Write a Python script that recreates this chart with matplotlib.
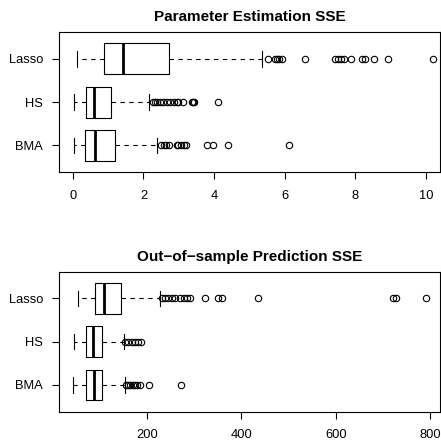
import matplotlib
matplotlib.use("Agg")
import matplotlib.pyplot as plt

plt.rcParams['font.family'] = ['Liberation Sans', 'DejaVu Sans']

methods = ["BMA", "HS", "Lasso"]

# parameter estimation SSE: whislo, q1, med, q3, whishi
param_bma = [0.02, 0.33, 0.63, 1.18, 2.39]
param_hs = [0.02, 0.36, 0.60, 1.08, 2.15]
param_lasso = [0.13, 0.87, 1.43, 2.71, 5.37]
param_bma_out = [2.50, 2.57, 2.64, 2.73, 2.94, 2.99, 3.06, 3.16, 3.20, 3.79, 3.98, 4.40, 6.11]
param_hs_out = [2.26, 2.33, 2.39, 2.47, 2.56, 2.66, 2.75, 2.85, 2.94, 2.99, 3.13, 3.37, 3.40, 3.43, 4.12]
param_lasso_out = [5.52, 5.71, 5.77, 5.85, 5.92, 6.58, 7.43, 7.52, 7.60, 7.68, 7.87, 8.18, 8.27, 8.54, 8.93, 10.19]

# out-of-sample prediction SSE
pred_bma = [43, 72, 88, 105, 153]
pred_hs = [45, 70, 86, 104, 151]
pred_lasso = [53, 90, 110, 146, 227]
pred_bma_out = [155, 160, 165, 170, 175, 180, 186, 204, 273]
pred_hs_out = [154, 161, 168, 175, 182, 188]
pred_lasso_out = [232, 239, 245, 253, 260, 270, 278, 285, 292, 323, 350, 360, 436, 721, 727, 791]


def make_stats(five, out, name):
    return dict(label=name, whislo=five[0], q1=five[1], med=five[2],
                q3=five[3], whishi=five[4], fliers=out)


def draw(ax, stats, title, xlim, xticks):
    ax.bxp(stats, positions=[1, 2, 3], widths=0.71, capwidths=0.36,
           orientation='horizontal', showfliers=True,
           boxprops=dict(color='black', lw=0.8),
           medianprops=dict(color='black', lw=2.0, solid_capstyle='butt'),
           whiskerprops=dict(color='black', lw=0.8, linestyle=(0, (4, 4))),
           capprops=dict(color='black', lw=0.8),
           flierprops=dict(marker='o', markerfacecolor='none',
                           markeredgecolor='black', markersize=4.6, mew=0.8))
    ax.set_xlim(*xlim)
    ax.set_ylim(0.38, 3.62)
    ax.set_xticks(xticks)
    ax.set_yticks([1, 2, 3])
    ax.set_yticklabels(methods)
    ax.tick_params(axis='both', direction='out', length=5, width=0.8,
                   labelsize=9.3, colors='black')
    ax.tick_params(axis='y', pad=6.5)
    ax.tick_params(axis='x', pad=7.5)
    for s in ax.spines.values():
        s.set_linewidth(0.8)
    ax.set_title(title, fontsize=11, fontweight='bold', pad=8)


fig = plt.figure(figsize=(4.41, 4.42), dpi=100)
ax1 = fig.add_axes([0.134, 0.610, 0.864, 0.318])
ax2 = fig.add_axes([0.134, 0.0686, 0.864, 0.3167])

top = [make_stats(param_bma, param_bma_out, "BMA"),
       make_stats(param_hs, param_hs_out, "HS"),
       make_stats(param_lasso, param_lasso_out, "Lasso")]
bottom = [make_stats(pred_bma, pred_bma_out, "BMA"),
          make_stats(pred_hs, pred_hs_out, "HS"),
          make_stats(pred_lasso, pred_lasso_out, "Lasso")]

draw(ax1, top, "Parameter Estimation SSE", (-0.39, 10.4), [0, 2, 4, 6, 8, 10])
draw(ax2, bottom, "Out\u2212of\u2212sample Prediction SSE", (14, 821), [200, 400, 600, 800])

fig.savefig("out.png", dpi=100)
